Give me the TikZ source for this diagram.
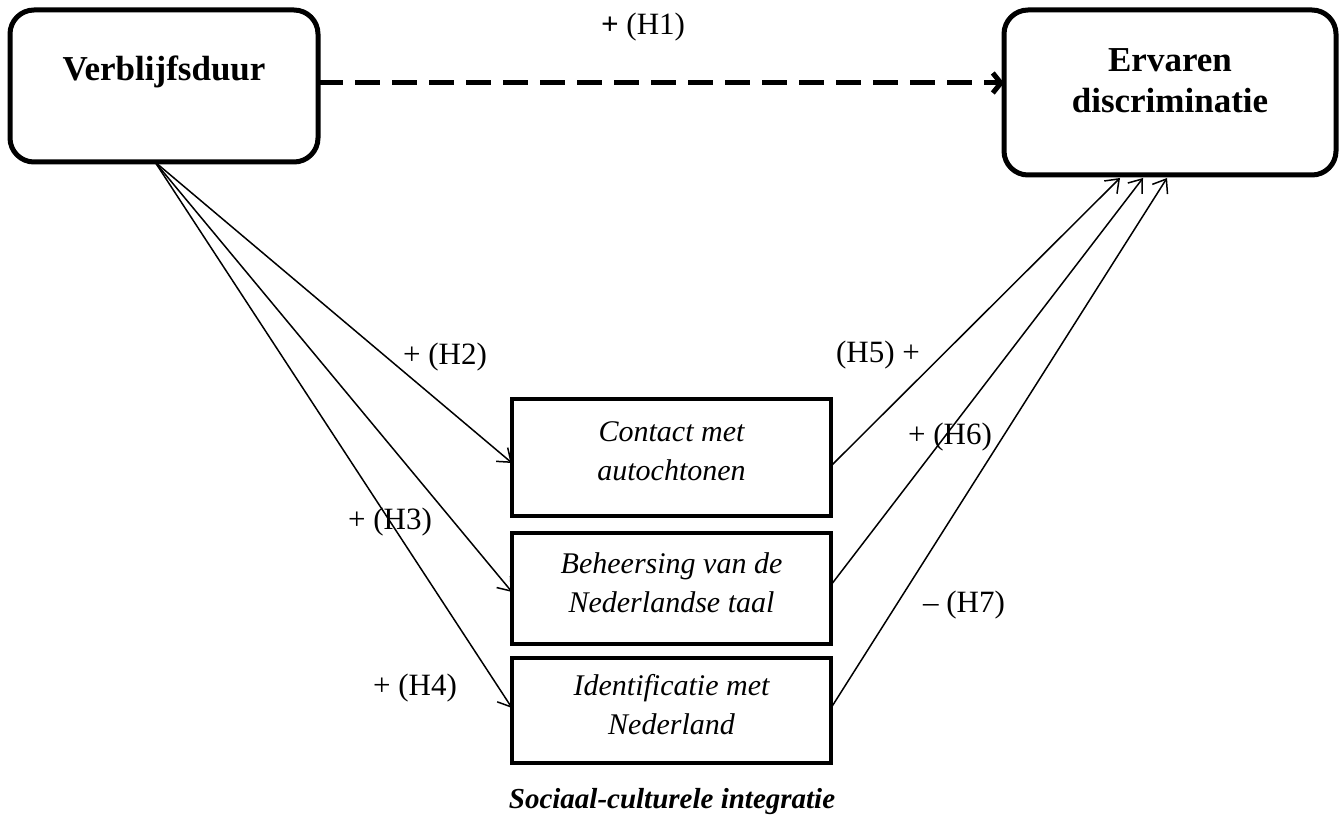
\documentclass[tikz,border=0pt]{standalone}
\usepackage{fontspec}
\setmainfont{Liberation Serif}
\usetikzlibrary{arrows.meta}
\begin{document}
\begin{tikzpicture}[x=0.5pt,y=-0.5pt,
  bigbox/.style={draw, line width=2.5pt, rounded corners=12pt, inner sep=0pt, outer sep=0pt},
  midbox/.style={draw, line width=1.75pt, inner sep=0pt, outer sep=0pt, minimum width=159.5pt,
     font=\fontsize{15}{19.5}\selectfont\itshape, align=center, text depth=6pt},
  bigtext/.style={font=\fontsize{17.5}{20.5}\selectfont\bfseries, align=center, inner sep=0pt},
  lab/.style={font=\fontsize{15.5}{18}\selectfont, inner sep=0pt},
  fan/.style={line width=0.75pt, -{Straight Barb[length=6pt,width=9pt]}},
  dasharrow/.style={line width=2.5pt, dash pattern=on 12.5pt off 6pt, -{Straight Barb[length=4pt,width=10pt]}},
]
\useasboundingbox (0,0) rectangle (1344,818);
% main boxes
\node[bigbox, minimum width=154pt, minimum height=76pt] (v) at (164,86) {};
\node[bigtext] (vt) at (164,72) {Verblijfsduur};
\node[bigbox, minimum width=166pt, minimum height=82.5pt] (e) at (1170,92.5) {};
\node[bigtext] (et) at (1170,81) {Ervaren\\discriminatie};
% mediator boxes
\node[midbox, minimum height=58.5pt] (c) at (671.5,457.5) {Contact met\\autochtonen};
\node[midbox, minimum height=55.5pt] (b) at (671.5,588.5) {Beheersing van de\\Nederlandse taal};
\node[midbox, minimum height=52.5pt] (i) at (671.5,710.5) {Identificatie met\\Nederland};
% dashed arrow
\draw[dasharrow] ([yshift=1.5pt]v.east) -- ([yshift=4.75pt]e.west);
\node[lab] (h1) at (643,27) {\textbf{+} (H1)};
% fan from Verblijfsduur
\coordinate (src) at ([xshift=-4.5pt]v.south);
\draw[fan] (src) -- ([yshift=-2.75pt]c.west);
\draw[fan] (src) -- ([yshift=-1.75pt]b.west);
\draw[fan] (src) -- ([yshift=1.25pt]i.west);
% to Ervaren discriminatie
\draw[fan] ([yshift=-4.25pt]c.east) -- ([xshift=-25pt,yshift=-1.5pt]e.south);
\draw[fan] ([yshift=1.75pt]b.east) -- ([xshift=-13.5pt,yshift=-1.5pt]e.south);
\draw[fan] ([yshift=1.25pt]i.east) -- ([xshift=-1.5pt,yshift=-1.5pt]e.south);
% labels
\node[lab] (h2) at (445,357) {+ (H2)};
\node[lab] (h5) at (878,355) {(H5) +};
\node[lab] (h6) at (950,437) {+ (H6)};
\node[lab] (h3) at (390,522) {+ (H3)};
\node[lab] (h7) at (964,605) {\textendash{} (H7)};
\node[lab] (h4) at (415,688) {+ (H4)};
\node[font=\fontsize{14.5}{17}\selectfont\bfseries\itshape, inner sep=0pt] (sci) at (672,802) {Sociaal-culturele integratie};
\end{tikzpicture}
\end{document}
